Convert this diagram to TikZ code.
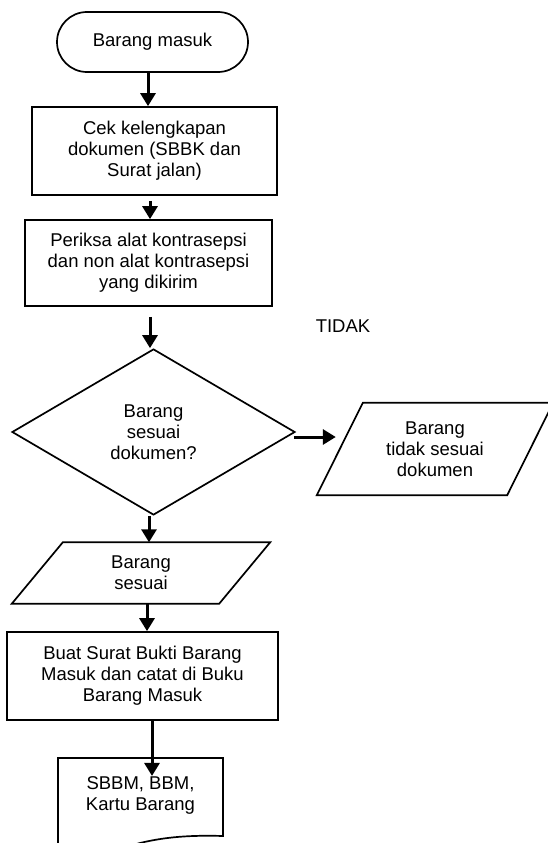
\documentclass[tikz,border=0pt]{standalone}
\usepackage{fontspec}
\setmainfont{Liberation Sans}
\usetikzlibrary{shapes.geometric,arrows.meta,positioning}

\tikzset{
    flowbox/.style={draw, line width=1.7pt, align=center, inner sep=0pt},
    flowtext/.style={align=center, inner sep=0pt},
    flowline/.style={line width=1.7pt, line join=miter},
    flowarrow/.style={line width=3pt, -{Triangle[length=13pt,width=15pt]}}
}

\begin{document}
\begin{tikzpicture}[x=1pt, y=-1pt, font=\fontsize{18.5}{21}\selectfont]
    \useasboundingbox (0,0) rectangle (547,843);

    % Start
    \node[flowbox, rounded corners=30pt, minimum width=191pt, minimum height=60pt] (start) at (152.5,42) {Barang masuk};

    % Check documents
    \node[flowbox, minimum width=245pt, minimum height=88pt] (cek) at (154.5,151) {Cek kelengkapan\\dokumen (SBBK dan\\Surat jalan)};
    \node[flowbox, minimum width=247pt, minimum height=86pt] (periksa) at (148.5,263) {Periksa alat kontrasepsi\\dan non alat kontrasepsi\\yang dikirim};

    % Decision
    \node[flowbox, diamond, minimum width=283pt, minimum height=166pt] (sesuai) at (153.5,432) {Barang\\sesuai\\dokumen?};
    \node[flowtext] (tidak) at (343,326) {TIDAK};

    % Not matching
    \node[flowtext, minimum width=190pt, minimum height=92pt] (notok) at (435,449) {Barang\\tidak sesuai\\dokumen};
    \draw[flowline] ([xshift=23pt]notok.north west) -- ([xshift=23pt]notok.north east)
        -- ([xshift=-23pt]notok.south east) -- ([xshift=-23pt]notok.south west) -- cycle;

    % Matching
    \node[flowtext, minimum width=207pt, minimum height=61pt] (ok) at (141,573) {Barang\\sesuai};
    \draw[flowline] ([xshift=25.5pt]ok.north west) -- ([xshift=25.5pt]ok.north east)
        -- ([xshift=-25.5pt]ok.south east) -- ([xshift=-25.5pt]ok.south west) -- cycle;

    % Record
    \node[flowbox, minimum width=271pt, minimum height=88pt] (buat) at (142.5,676) {Buat Surat Bukti Barang\\Masuk dan catat di Buku\\Barang Masuk};

    % Output document
    \node[flowtext] (doc) at (140.5,795) {SBBM, BBM,\\Kartu Barang};
    \begin{scope}
        \clip (0,0) rectangle (547,843);
        \draw[flowline] (58,860) -- (58,758) -- (223,758) -- (223,836)
            .. controls (190,835) and (165,837) .. (140,843)
            .. controls (110,852) and (80,856) .. (58,853);
    \end{scope}

    % Arrows
    \draw[flowarrow] ([xshift=-4.5pt]start.south) -- ([xshift=-4.5pt]start.south |- cek.north);
    \draw[flowarrow] ([xshift=-4.5pt,yshift=-5pt]cek.south) -- ([xshift=-4.5pt]cek.south |- periksa.north);
    \draw[flowarrow] ([xshift=1.5pt,yshift=-10pt]periksa.south) -- ([xshift=1.5pt]periksa.south |- sesuai.north);
    \draw[flowarrow] ([xshift=-4.5pt]sesuai.south) -- ([xshift=-4.5pt]sesuai.south |- ok.north);
    \draw[flowarrow] ([xshift=6pt]ok.south) -- ([xshift=6pt]ok.south |- buat.north);
    \draw[flowarrow] ([xshift=9.5pt]buat.south) -- ([xshift=9.5pt]buat.south |- doc.north);
    \draw[flowarrow] ([xshift=-2pt,yshift=-5pt]sesuai.east) -- ([xshift=-4pt,yshift=-5pt]sesuai.east -| notok.west);
\end{tikzpicture}
\end{document}
